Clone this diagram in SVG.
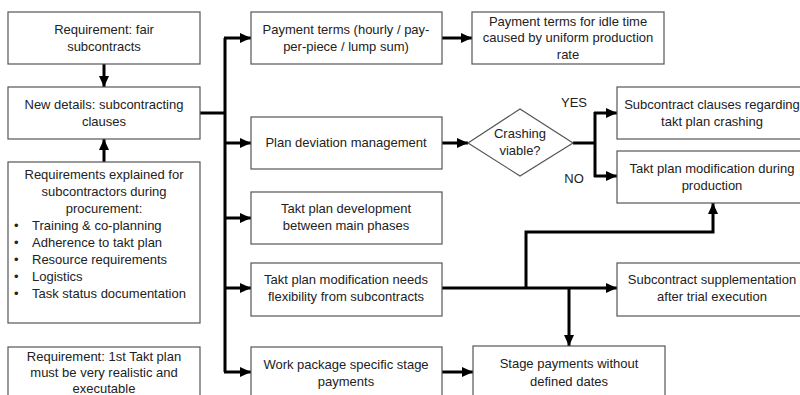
<svg xmlns="http://www.w3.org/2000/svg" width="800" height="395" viewBox="0 0 800 395">
<style>
.box{fill:#fff;stroke:#555;stroke-width:1.2}
.t{font-family:"Liberation Sans",Arial,sans-serif;font-size:13px;fill:#222;text-anchor:middle}
.tl{font-family:"Liberation Sans",Arial,sans-serif;font-size:13px;fill:#222;text-anchor:start}
.lbl{font-family:"Liberation Sans",Arial,sans-serif;font-size:13px;fill:#222;text-anchor:middle}
.c{fill:none;stroke:#000;stroke-width:3}
.ca{fill:none;stroke:#000;stroke-width:3;marker-end:url(#ah)}
</style>
<defs>
<marker id="ah" markerUnits="userSpaceOnUse" markerWidth="12" markerHeight="12" viewBox="0 0 12 12" refX="11" refY="6" orient="auto">
<path d="M0,1 L11,6 L0,11 Z" fill="#000"/>
</marker>
</defs>
<rect width="800" height="395" fill="#fff"/>

<g id="connectors">
<path class="ca" d="M104,64 V87"/>
<path class="ca" d="M104,162 V139"/>
<path class="c" d="M200,113 H225"/>
<path class="c" d="M225,38 V372"/>
<path class="ca" d="M224,38 H251"/>
<path class="ca" d="M224,143 H251"/>
<path class="ca" d="M224,218 H251"/>
<path class="ca" d="M224,288 H251"/>
<path class="ca" d="M224,372 H251"/>
<path class="ca" d="M442,38 H472"/>
<path class="ca" d="M442,143 H468"/>
<path class="c" d="M573,143 H595"/>
<path class="c" d="M595,112 V177"/>
<path class="ca" d="M594,113 H617"/>
<path class="ca" d="M594,176 H617"/>
<path class="ca" d="M442,288 H617"/>
<path class="ca" d="M526,289 V232 H713 V203"/>
<path class="ca" d="M569,288 V346"/>
<path class="ca" d="M442,372 H473"/>
</g>

<g id="n-fair">
<rect class="box" x="8" y="12" width="192" height="52"/>
<text class="t" x="104" y="34">Requirement: fair</text>
<text class="t" x="104" y="51">subcontracts</text>
</g>

<g id="n-details">
<rect class="box" x="8" y="87" width="192" height="52"/>
<text class="t" x="104" y="109">New details: subcontracting</text>
<text class="t" x="104" y="126">clauses</text>
</g>

<g id="n-explained">
<rect class="box" x="8" y="162" width="192" height="161"/>
<text class="t" x="104" y="179">Requirements explained for</text>
<text class="t" x="104" y="196">subcontractors during</text>
<text class="t" x="104" y="213">procurement:</text>
<text class="tl" x="14" y="230">•</text><text class="tl" x="32" y="230">Training &amp; co-planning</text>
<text class="tl" x="14" y="247">•</text><text class="tl" x="32" y="247">Adherence to takt plan</text>
<text class="tl" x="14" y="264">•</text><text class="tl" x="32" y="264">Resource requirements</text>
<text class="tl" x="14" y="281">•</text><text class="tl" x="32" y="281">Logistics</text>
<text class="tl" x="14" y="298">•</text><text class="tl" x="32" y="298">Task status documentation</text>
</g>

<g id="n-first">
<rect class="box" x="8" y="347" width="192" height="60"/>
<text class="t" x="104" y="361">Requirement: 1st Takt plan</text>
<text class="t" x="104" y="377">must be very realistic and</text>
<text class="t" x="104" y="393">executable</text>
</g>

<g id="n-payment">
<rect class="box" x="251" y="12" width="191" height="52"/>
<text class="t" x="346" y="34">Payment terms (hourly / pay-</text>
<text class="t" x="346" y="51">per-piece / lump sum)</text>
</g>

<g id="n-idle">
<rect class="box" x="472" y="12" width="192" height="52"/>
<text class="t" x="568" y="26">Payment terms for idle time</text>
<text class="t" x="568" y="42">caused by uniform production</text>
<text class="t" x="568" y="59">rate</text>
</g>

<g id="n-deviation">
<rect class="box" x="251" y="117" width="191" height="52"/>
<text class="t" x="346" y="147">Plan deviation management</text>
</g>

<g id="n-crashing">
<polygon class="box" points="468,143 520,109 573,143 520,176"/>
<text class="t" x="520" y="138">Crashing</text>
<text class="t" x="520" y="155">viable?</text>
</g>

<g id="labels">
<text class="lbl" x="574" y="107">YES</text>
<text class="lbl" x="574" y="183">NO</text>
</g>

<g id="n-clauses">
<rect class="box" x="617" y="87" width="192" height="52"/>
<text class="t" x="712" y="109">Subcontract clauses regarding</text>
<text class="t" x="712" y="126">takt plan crashing</text>
</g>

<g id="n-modprod">
<rect class="box" x="617" y="151" width="192" height="52"/>
<text class="t" x="712" y="173">Takt plan modification during</text>
<text class="t" x="712" y="190">production</text>
</g>

<g id="n-takt-dev">
<rect class="box" x="251" y="192" width="191" height="52"/>
<text class="t" x="346" y="213">Takt plan development</text>
<text class="t" x="346" y="230">between main phases</text>
</g>

<g id="n-takt-mod">
<rect class="box" x="251" y="263" width="191" height="53"/>
<text class="t" x="346" y="284">Takt plan modification needs</text>
<text class="t" x="346" y="301">flexibility from subcontracts</text>
</g>

<g id="n-supplement">
<rect class="box" x="617" y="263" width="192" height="53"/>
<text class="t" x="712" y="284">Subcontract supplementation</text>
<text class="t" x="712" y="301">after trial execution</text>
</g>

<g id="n-workpkg">
<rect class="box" x="251" y="347" width="191" height="60"/>
<text class="t" x="346" y="369">Work package specific stage</text>
<text class="t" x="346" y="386">payments</text>
</g>

<g id="n-stage">
<rect class="box" x="473" y="346" width="192" height="60"/>
<text class="t" x="569" y="368">Stage payments without</text>
<text class="t" x="569" y="386">defined dates</text>
</g>
</svg>
